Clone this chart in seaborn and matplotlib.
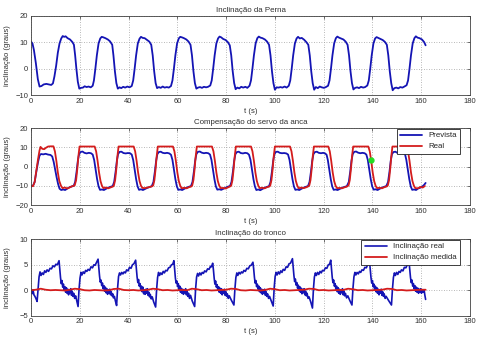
import matplotlib
matplotlib.use("Agg")
import matplotlib.pyplot as plt
import seaborn as sns
import pandas as pd

# ---------------- data ----------------
titles = ["Inclinação da Perna", "Compensação do servo da anca", "Inclinação do tronco"]
xlabel = "t (s)"
ylabel = "inclinação (graus)"
xticks = [0, 20, 40, 60, 80, 100, 120, 140, 160, 180]
yticks_top = [-10, 0, 10, 20]
yticks_mid = [-20, -10, 0, 10, 20]
yticks_bot = [-5, 0, 5, 10]
legend_mid = ["Prevista", "Real"]
legend_bot = ["Inclinação real", "Inclinação medida"]
marker_pt = (139.3, 3.5)

perna = [
    (0, 10.2), (0.6, 9.5), (1.2, 7), (2, 2), (2.8, -4), (3.5, -6.8), (4.3, -6.6), (5.2, -6), (6.3, -5.8),
    (7.4, -6), (8.3, -6.2), (9, -5.6), (9.6, -3), (10.3, 1), (11, 6), (11.7, 9.5), (12.4, 11.4), (13, 12.3),
    (13.6, 12), (14.2, 12.2), (15, 11.5), (16, 11), (17, 10), (17.6, 9), (18.1, 5), (18.6, 0), (19.2, -5), (19.8, -7.6),
    (20.5, -7.3), (21.3, -7.2), (22, -6.7), (22.8, -7), (23.6, -6.8), (24.5, -7.1), (25.3, -6.5), (25.8, -4.5),
    (26.4, 0), (27, 5), (27.7, 9.5), (28.4, 11.4), (29, 12), (29.7, 11.8), (30.5, 11.5), (31.5, 11), (32.4, 10.3),
    (33.3, 9), (33.8, 5), (34.4, -1), (35, -5.5), (35.6, -7.6),
    (36.3, -7.1), (37, -7.4), (37.8, -6.9), (38.6, -7.2), (39.5, -6.8), (40.4, -7.1), (41.3, -6.6), (41.9, -4.5),
    (42.5, 0), (43.1, 5), (43.8, 9.5), (44.5, 11.3), (45.1, 12), (45.8, 11.6), (46.6, 11.5), (47.6, 10.8),
    (48.5, 10.2), (49.3, 9), (49.9, 5), (50.5, -1), (51.1, -5.5), (51.7, -7.4),
    (52.4, -7), (53.2, -7.3), (54, -6.8), (54.8, -7.2), (55.7, -7), (56.5, -7.2), (57.4, -6.6), (58, -4.5),
    (58.6, 0), (59.2, 5), (59.9, 9.5), (60.6, 11.4), (61.2, 12), (61.9, 11.8), (62.7, 11.5), (63.7, 11),
    (64.6, 10.2), (65.4, 9), (66, 5), (66.6, -1), (67.2, -5.5), (67.8, -7.6),
    (68.5, -7.2), (69.3, -7), (70.1, -7.3), (70.9, -6.9), (71.8, -7.1), (72.6, -6.9), (73.5, -6.4), (74.1, -4.5),
    (74.7, 0), (75.3, 5), (76, 9.5), (76.7, 11.4), (77.3, 12.1), (78, 11.8), (78.8, 11.2), (79.8, 10.8),
    (80.7, 10), (81.5, 8.8), (82.1, 5), (82.7, -1), (83.3, -5.5), (83.9, -7.8),
    (84.6, -7.2), (85.4, -7.5), (86.2, -6.9), (87, -7.2), (87.9, -6.9), (88.7, -7.3), (89.6, -6.5), (90.2, -4.5),
    (90.8, 0), (91.4, 5), (92.1, 9.5), (92.8, 11.5), (93.4, 12.1), (94.1, 11.7), (94.9, 11.5), (95.9, 11),
    (96.8, 10.2), (97.6, 9), (98.2, 5), (98.8, -1), (99.4, -5.5), (100, -8),
    (100.7, -7.1), (101.5, -7.2), (102.3, -7), (103.1, -7.2), (104, -6.8), (104.8, -7.2), (105.7, -6.5), (106.3, -4.5),
    (106.9, 0), (107.5, 5), (108.2, 9.5), (108.9, 11.4), (109.5, 12), (110.2, 11.4), (111, 11.6), (112, 10.9),
    (112.9, 10), (113.7, 9), (114.3, 5), (114.9, -1), (115.5, -5.5), (116.1, -8),
    (116.8, -7), (117.6, -7.4), (118.4, -6.8), (119.2, -7.1), (120.1, -7.3), (120.9, -7), (121.8, -6.5), (122.4, -4.5),
    (123, 0), (123.6, 5), (124.3, 9.5), (125, 11.5), (125.6, 12.1), (126.3, 11.7), (127.1, 11.4), (128.1, 11),
    (129, 10.2), (129.8, 9), (130.4, 5), (131, -1), (131.6, -5.5), (132.2, -7.9),
    (132.9, -7.3), (133.7, -7.1), (134.5, -7.4), (135.3, -6.9), (136.2, -7.2), (137, -7), (137.9, -6.4), (138.5, -4.5),
    (139.1, 0), (139.7, 5), (140.4, 9.5), (141.1, 11.4), (141.7, 11.9), (142.4, 11.6), (143.2, 11.3), (144.2, 10.8),
    (145.1, 10.1), (145.9, 9), (146.5, 5), (147.1, -1), (147.7, -5.5), (148.3, -8.2),
    (149, -7.4), (149.8, -7.2), (150.6, -7.5), (151.4, -7), (152.3, -7.2), (153.1, -6.8), (154, -6.3), (154.6, -4.5),
    (155.2, 0), (155.8, 5), (156.5, 9.5), (157.2, 11.5), (157.8, 12.2), (158.5, 11.7), (159.3, 11.5), (160.3, 11),
    (161.2, 10), (161.8, 8.8),
]

prevista = [
    (0, -10.3), (0.8, -10), (1.5, -8), (2.2, -2.5), (2.9, 2.5), (3.5, 5.8), (4.1, 6.6), (5.0, 6.4), (6.0, 6.7),
    (7.0, 6.3), (8.0, 6.1), (8.7, 5.3), (9.3, 2.5), (9.9, -1.5), (10.5, -5.5), (11.1, -9), (11.7, -11.5),
    (12.4, -12.2), (13.2, -11.9), (14.0, -12.2), (14.8, -11.5), (15.6, -10.9), (16.5, -10.4), (17.5, -10),
    (18.1, -8), (18.7, -2.5), (19.2, 3), (19.7, 6.5),
    (20.3, 7.6), (21.1, 7.9), (21.9, 7.2), (22.8, 6.9), (23.7, 7.2), (24.6, 7.0), (25.3, 6.3),
    (25.9, 3.5), (26.5, -1.5), (27.1, -6.5), (27.7, -10.3), (28.3, -12.1), (29.1, -11.9), (29.9, -12.2),
    (30.7, -11.6), (31.6, -11.0), (32.5, -10.6), (33.5, -10.1), (34.1, -8), (34.7, -2.5), (35.2, 3), (35.7, 6.5),
    (36.3, 7.7), (37.1, 7.8), (37.9, 7.1), (38.8, 6.9), (39.7, 7.1), (40.6, 7.0), (41.3, 6.3),
    (41.9, 3.5), (42.5, -1.5), (43.1, -6.5), (43.7, -10.3), (44.3, -12.1), (45.1, -11.8), (45.9, -12.2),
    (46.7, -11.7), (47.6, -11.1), (48.5, -10.7), (49.5, -10.2), (50.2, -8), (50.8, -2.5), (51.3, 3), (51.8, 6.5),
    (52.4, 7.6), (53.2, 7.8), (54.0, 7.2), (54.9, 7.0), (55.8, 7.2), (56.7, 6.9), (57.4, 6.2),
    (58.0, 3.5), (58.6, -1.5), (59.2, -6.5), (59.8, -10.3), (60.4, -12.1), (61.2, -11.9), (62.0, -12.2),
    (62.8, -11.6), (63.7, -11.0), (64.6, -10.6), (65.6, -10.1), (66.2, -8), (66.8, -2.5), (67.3, 3), (67.8, 6.5),
    (68.4, 7.7), (69.2, 7.9), (70.0, 7.3), (70.9, 7.0), (71.8, 7.2), (72.7, 7.0), (73.4, 6.3),
    (74.0, 3.5), (74.6, -1.5), (75.2, -6.5), (75.8, -10.3), (76.4, -12.0), (77.2, -11.8), (78.0, -12.1),
    (78.8, -11.6), (79.7, -11.0), (80.6, -10.5), (81.6, -10.1), (82.2, -8), (82.8, -2.5), (83.3, 3), (83.8, 6.5),
    (84.4, 7.6), (85.2, 7.8), (86.0, 7.1), (86.9, 6.9), (87.8, 7.2), (88.7, 7.0), (89.4, 6.2),
    (90.0, 3.5), (90.6, -1.5), (91.2, -6.5), (91.8, -10.3), (92.4, -12.2), (93.2, -11.9), (94.0, -12.3),
    (94.8, -11.7), (95.7, -11.1), (96.6, -10.6), (97.6, -10.2), (98.2, -8), (98.8, -2.5), (99.3, 3), (99.8, 6.5),
    (100.4, 7.7), (101.2, 7.8), (102.0, 7.2), (102.9, 7.0), (103.8, 7.1), (104.7, 6.9), (105.4, 6.3),
    (106.0, 3.5), (106.6, -1.5), (107.2, -6.5), (107.8, -10.3), (108.4, -12.1), (109.2, -11.9), (110.0, -12.2),
    (110.8, -11.6), (111.7, -11.0), (112.6, -10.6), (113.6, -10.1), (114.2, -8), (114.8, -2.5), (115.3, 3), (115.8, 6.5),
    (116.4, 7.6), (117.2, 7.8), (118.0, 7.2), (118.9, 7.0), (119.8, 7.2), (120.6, 6.9), (121.2, 6.2),
    (121.7, 3.5), (122.3, -1.5), (122.9, -6.5), (123.5, -10.3), (124.1, -12.1), (124.9, -11.9), (125.7, -12.2),
    (126.5, -11.7), (127.4, -11.1), (128.4, -10.6), (129.5, -10.2), (130.3, -8), (130.9, -2.5), (131.4, 3), (131.9, 6.5),
    (132.5, 7.7), (133.3, 7.9), (134.1, 7.3), (135.0, 7.0), (135.9, 7.2), (136.8, 7.0), (137.5, 6.3),
    (138.1, 3.5), (138.7, -1.5), (139.3, -6.5), (139.9, -10.3), (140.5, -12.0), (141.3, -11.8), (142.1, -12.2),
    (142.9, -11.6), (143.8, -11.0), (144.7, -10.6), (145.7, -10.1), (146.4, -8), (147.0, -2.5), (147.5, 3), (148.0, 6.5),
    (148.6, 7.6), (149.4, 7.8), (150.2, 7.2), (151.1, 7.0), (152.0, 7.1), (152.9, 6.9), (153.4, 6.3),
    (153.9, 3.5), (154.5, -1.5), (155.1, -6.5), (155.7, -10.3), (156.3, -12.1), (157.1, -11.9), (157.9, -12.2),
    (158.7, -11.4), (159.6, -11.0), (160.5, -10.3), (161.2, -9.5), (161.8, -8.5),
]

real = [
    (0, -10), (0.8, -10.2), (1.5, -8), (2.2, -2), (2.9, 4), (3.5, 8.5), (3.9, 10.3), (4.6, 9.3), (5.4, 9.1),
    (6.2, 9.9), (7.0, 10.5), (8.0, 10.6), (9.2, 10.6), (9.8, 8), (10.4, 3), (11.0, -3), (11.6, -7.5), (12.3, -10),
    (12.9, -11.2), (13.9, -10.9), (14.9, -11.4), (15.9, -10.8), (16.9, -10.2), (17.9, -9.8), (18.5, -7), (19.0, -1),
    (19.4, 5), (19.9, 10.5),
    (26.1, 10.5), (26.7, 8), (27.3, 3), (27.9, -3), (28.5, -7.5), (29.1, -10), (29.7, -11.2), (30.7, -10.9),
    (31.7, -11.3), (32.7, -10.8), (33.7, -10.3), (34.0, -9.8), (34.5, -7), (35.0, -1), (35.4, 5), (35.9, 10.5),
    (42.1, 10.5), (42.7, 8), (43.3, 3), (43.9, -3), (44.5, -7.5), (45.1, -10), (45.7, -11.1), (46.7, -11.2),
    (47.7, -10.9), (48.7, -10.6), (49.7, -10.2), (50.1, -9.8), (50.6, -7), (51.1, -1), (51.5, 5), (52.0, 10.5),
    (58.2, 10.5), (58.8, 8), (59.4, 3), (60.0, -3), (60.6, -7.5), (61.2, -10), (61.8, -11.3), (62.8, -11),
    (63.8, -11.3), (64.8, -10.7), (65.8, -10.3), (66.1, -9.8), (66.6, -7), (67.1, -1), (67.5, 5), (68.0, 10.5),
    (74.2, 10.5), (74.8, 8), (75.4, 3), (76.0, -3), (76.6, -7.5), (77.2, -10), (77.8, -11.2), (78.8, -11.1),
    (79.8, -11.4), (80.8, -10.8), (81.8, -10.2), (82.1, -9.8), (82.6, -7), (83.1, -1), (83.5, 5), (84.0, 10.5),
    (90.2, 10.5), (90.8, 8), (91.4, 3), (92.0, -3), (92.6, -7.5), (93.2, -10), (93.8, -11.2), (94.8, -11),
    (95.8, -11.3), (96.8, -10.7), (97.8, -10.3), (98.1, -9.8), (98.6, -7), (99.1, -1), (99.5, 5), (100.0, 10.5),
    (106.2, 10.5), (106.8, 8), (107.4, 3), (108.0, -3), (108.6, -7.5), (109.2, -10), (109.8, -11.3), (110.8, -10.9),
    (111.8, -11.2), (112.8, -10.8), (113.8, -10.2), (114.1, -9.8), (114.6, -7), (115.1, -1), (115.5, 5), (116.0, 10.5),
    (121.9, 10.5), (122.5, 8), (123.1, 3), (123.7, -3), (124.3, -7.5), (124.9, -10), (125.5, -11.2), (126.5, -11.1),
    (127.5, -11.3), (128.5, -10.8), (129.5, -10.4), (130.2, -9.8), (130.7, -7), (131.2, -1), (131.6, 5), (132.1, 10.5),
    (138.3, 10.5), (138.9, 8), (139.5, 3), (140.1, -3), (140.7, -7.5), (141.3, -10), (141.9, -11.2), (142.9, -11),
    (143.9, -11.3), (144.9, -10.7), (145.9, -10.3), (146.3, -9.8), (146.8, -7), (147.3, -1), (147.7, 5), (148.2, 10.5),
    (154.0, 10.5), (154.6, 8), (155.2, 3), (155.8, -3), (156.4, -7.5), (157.0, -10), (157.6, -11.2), (158.6, -11.3),
    (159.6, -10.6), (160.6, -10.9), (161.5, -10.1),
]

tronco_real = [
    (0, -0.3), (0.4, -0.7), (0.8, 0.1), (1.2, -0.9), (1.6, -1.2), (2.0, -1.6), (2.5, -2.2),
    (2.9, 0.3), (3.3, 2.6), (3.7, 3.6), (4.1, 2.9), (4.6, 3.4), (5.1, 3.1), (5.6, 3.8), (6.1, 3.5), (6.6, 4.0),
    (7.2, 3.7), (7.8, 4.3), (8.4, 4.2), (9.0, 4.8), (9.6, 4.6), (10.2, 5.1), (10.8, 5.0), (11.5, 5.8),
    (11.8, 4.2), (12.1, 2.5), (12.4, 1.3), (12.7, 1.9), (13.0, 0.6), (13.3, 1.2), (13.6, 0.1), (13.9, 0.7),
    (14.2, -0.4), (14.5, 0.5), (14.8, -0.6), (15.1, 0.2), (15.4, -0.9), (15.7, 0.0), (16.0, -0.5), (16.3, 0.3),
    (16.6, -1.0), (16.9, -0.2), (17.2, -1.2), (17.5, -0.6), (17.9, -1.6), (18.3, -1.1), (18.8, -2.2), (19.3, -3.2),
    (19.7, 0.2), (20.1, 2.4), (20.5, 3.5), (20.9, 3.0), (21.4, 3.6), (21.9, 3.3), (22.4, 3.9), (22.9, 3.7),
    (23.4, 4.1), (24.0, 3.9), (24.6, 4.6), (25.2, 4.4), (25.8, 5.0), (26.3, 4.9), (26.9, 5.5), (27.5, 6.1),
    (27.8, 4.5), (28.1, 2.8), (28.4, 1.6), (28.7, 2.0), (29.0, 0.9), (29.3, 1.4), (29.6, 0.3), (29.9, 0.9),
    (30.2, -0.2), (30.5, 0.6), (30.8, -0.5), (31.1, 0.3), (31.4, -0.8), (31.7, 0.1), (32.0, -0.6), (32.3, 0.2),
    (32.6, -0.9), (32.9, -0.3), (33.2, -1.1), (33.5, -0.7), (33.8, -1.5), (34.2, -1.2), (34.6, -2.1), (35.1, -3.0),
    (35.5, 0.4), (35.9, 2.7), (36.3, 3.4), (36.7, 3.0), (37.2, 3.5), (37.7, 3.2), (38.2, 3.6), (38.7, 3.4),
    (39.2, 4.0), (39.8, 3.8), (40.4, 4.5), (41.0, 4.3), (41.6, 5.0), (42.2, 5.2), (42.9, 5.9),
    (43.2, 4.3), (43.5, 2.6), (43.8, 1.5), (44.1, 2.1), (44.4, 0.8), (44.7, 1.3), (45.0, 0.2), (45.3, 0.8),
    (45.6, -0.3), (45.9, 0.6), (46.2, -0.7), (46.5, 0.1), (46.8, -0.8), (47.1, 0.2), (47.4, -0.6), (47.7, 0.3),
    (48.0, -1.0), (48.3, -0.4), (48.6, -1.3), (48.9, -0.8), (49.3, -1.7), (49.7, -1.3), (50.3, -2.3), (51.1, -3.3),
    (51.5, 0.1), (51.9, 2.5), (52.3, 3.5), (52.7, 2.9), (53.2, 3.4), (53.7, 3.1), (54.2, 3.7), (54.7, 3.4),
    (55.2, 3.9), (55.8, 3.8), (56.4, 4.4), (57.0, 4.5), (57.6, 5.0), (58.1, 5.1), (58.6, 5.8),
    (58.9, 4.1), (59.2, 2.4), (59.5, 1.4), (59.8, 1.8), (60.1, 0.7), (60.4, 1.3), (60.7, 0.1), (61.0, 0.8),
    (61.3, -0.4), (61.6, 0.4), (61.9, -0.6), (62.2, 0.2), (62.5, -0.8), (62.8, 0.0), (63.1, -0.5), (63.4, 0.3),
    (63.7, -0.9), (64.0, -0.2), (64.3, -1.2), (64.6, -0.6), (65.0, -1.6), (65.4, -1.0), (66.1, -2.1), (67.1, -3.2),
    (67.5, 0.3), (67.9, 2.6), (68.3, 3.3), (68.7, 2.8), (69.2, 3.4), (69.7, 3.0), (70.2, 3.5), (70.7, 3.3),
    (71.2, 3.8), (71.8, 3.6), (72.4, 4.2), (73.0, 4.1), (73.6, 4.7), (74.0, 4.6), (74.5, 5.3),
    (74.8, 4.0), (75.1, 2.4), (75.4, 1.2), (75.7, 1.8), (76.0, 0.6), (76.3, 1.1), (76.6, 0.0), (76.9, 0.7),
    (77.2, -0.4), (77.5, 0.4), (77.8, -0.6), (78.1, 0.3), (78.4, -0.9), (78.7, -0.1), (79.0, -0.6), (79.3, 0.2),
    (79.6, -1.0), (79.9, -0.3), (80.2, -1.2), (80.5, -0.7), (80.9, -1.6), (81.3, -1.1), (82.2, -2.0), (83.2, -2.9),
    (83.6, 0.2), (84.0, 2.5), (84.4, 3.4), (84.8, 2.9), (85.3, 3.5), (85.8, 3.2), (86.3, 3.6), (86.8, 3.4),
    (87.3, 3.9), (87.9, 3.7), (88.5, 4.3), (89.1, 4.2), (89.7, 4.8), (90.3, 4.9), (91.0, 5.5),
    (91.3, 4.2), (91.6, 2.6), (91.9, 1.4), (92.2, 1.9), (92.5, 0.7), (92.8, 1.2), (93.1, 0.2), (93.4, 0.8),
    (93.7, -0.3), (94.0, 0.5), (94.3, -0.5), (94.6, 0.2), (94.9, -0.8), (95.2, 0.1), (95.5, -0.6), (95.8, 0.2),
    (96.1, -1.0), (96.4, -0.3), (96.7, -1.2), (97.0, -0.7), (97.4, -1.6), (97.8, -1.2), (98.5, -2.1), (99.3, -3.1),
    (99.7, 0.4), (100.1, 2.7), (100.5, 3.5), (100.9, 3.0), (101.4, 3.6), (101.9, 3.2), (102.4, 3.8), (102.9, 3.5),
    (103.4, 4.1), (104.0, 3.9), (104.6, 4.6), (105.2, 4.5), (105.8, 5.2), (106.4, 5.3), (107.2, 6.2),
    (107.5, 4.6), (107.8, 2.9), (108.1, 1.7), (108.4, 2.2), (108.7, 1.0), (109.0, 1.5), (109.3, 0.4), (109.6, 1.0),
    (109.9, -0.1), (110.2, 0.7), (110.5, -0.4), (110.8, 0.4), (111.1, -0.7), (111.4, 0.2), (111.7, -0.5), (112.0, 0.3),
    (112.3, -0.9), (112.6, -0.2), (112.9, -1.1), (113.2, -0.6), (113.6, -1.6), (114.0, -1.3), (114.7, -2.3), (115.4, -3.5),
    (115.8, 0.2), (116.2, 2.6), (116.6, 3.4), (117.0, 2.9), (117.5, 3.5), (118.0, 3.1), (118.5, 3.7), (119.0, 3.4),
    (119.5, 3.9), (120.1, 3.8), (120.7, 4.4), (121.3, 4.3), (121.9, 5.0), (122.4, 5.1), (122.9, 5.9),
    (123.2, 4.3), (123.5, 2.6), (123.8, 1.5), (124.1, 2.0), (124.4, 0.8), (124.7, 1.3), (125.0, 0.2), (125.3, 0.8),
    (125.6, -0.3), (125.9, 0.5), (126.2, -0.6), (126.5, 0.2), (126.8, -0.8), (127.1, 0.1), (127.4, -0.5), (127.7, 0.3),
    (128.0, -0.9), (128.3, -0.2), (128.6, -1.1), (128.9, -0.6), (129.4, -1.5), (129.9, -1.1), (130.7, -2.0), (131.6, -2.9),
    (132.0, 0.3), (132.4, 2.6), (132.8, 3.5), (133.2, 3.0), (133.7, 3.5), (134.2, 3.2), (134.7, 3.7), (135.2, 3.5),
    (135.7, 4.0), (136.3, 3.9), (136.9, 4.5), (137.5, 4.4), (138.1, 5.1), (138.8, 5.7),
    (139.1, 4.1), (139.4, 2.5), (139.7, 1.4), (140.0, 1.9), (140.3, 0.7), (140.6, 1.2), (140.9, 0.1), (141.2, 0.8),
    (141.5, -0.3), (141.8, 0.5), (142.1, -0.6), (142.4, 0.2), (142.7, -0.9), (143.0, 0.0), (143.3, -0.6), (143.6, 0.2),
    (143.9, -1.0), (144.2, -0.3), (144.5, -1.2), (144.8, -0.7), (145.2, -1.6), (145.6, -1.2), (146.6, -2.0), (147.8, -2.9),
    (148.2, 0.2), (148.6, 2.5), (149.0, 3.4), (149.4, 2.9), (149.9, 3.5), (150.4, 3.1), (150.9, 3.7), (151.4, 3.5),
    (151.9, 4.0), (152.5, 3.8), (153.1, 4.5), (153.7, 4.4), (154.3, 5.0), (155.0, 5.6),
    (155.3, 4.0), (155.6, 2.5), (155.9, 1.5), (156.2, 2.0), (156.5, 0.8), (156.8, 1.3), (157.1, 0.3), (157.4, 0.9),
    (157.7, -0.2), (158.0, 0.6), (158.3, -0.4), (158.6, 0.4), (158.9, -0.6), (159.2, 0.2), (159.5, -0.4), (159.8, 0.3),
    (160.1, -0.6), (160.4, 0.1), (160.8, -0.4), (161.2, 0.0), (161.5, -1.0), (161.8, -1.8),
]

tronco_medida = [
    (0, 0.0), (2, 0.1), (4, 0.3), (6, 0.1), (8, 0.0), (10, 0.05), (12, 0.0), (14, -0.05), (16, 0.1), (18, 0.3),
    (20, 0.2), (22, 0.0), (24, -0.05), (26, 0.05), (28, 0.0), (30, -0.05), (32, 0.0), (34, 0.25), (36, 0.3),
    (38, 0.05), (40, 0.0), (42, 0.05), (44, -0.05), (46, 0.0), (48, 0.1), (50, 0.3), (52, 0.2), (54, 0.0),
    (56, 0.05), (58, -0.05), (60, 0.0), (62, 0.05), (64, 0.0), (66, 0.3), (68, 0.2), (70, 0.0), (72, 0.05),
    (74, -0.05), (76, 0.0), (78, 0.05), (80, 0.1), (82, 0.3), (84, 0.25), (86, 0.0), (88, -0.05), (90, 0.05),
    (92, 0.0), (94, -0.05), (96, 0.05), (98, 0.3), (100, 0.2), (102, 0.0), (104, 0.05), (106, -0.05), (108, 0.0),
    (110, 0.05), (112, 0.1), (114, 0.3), (116, 0.25), (118, 0.0), (120, 0.05), (122, -0.05), (124, 0.0),
    (126, 0.05), (128, 0.05), (130, 0.3), (132, 0.2), (134, 0.0), (136, 0.05), (138, -0.05), (140, 0.0),
    (142, 0.05), (144, 0.1), (146, 0.3), (148, 0.25), (150, 0.0), (152, 0.05), (154, -0.05), (156, 0.0),
    (158, 0.05), (160, 0.1), (161.8, 0.1),
]

# ---------------- styling ----------------
sns.set_style("white")
plt.rcParams["font.family"] = ["Liberation Sans", "DejaVu Sans"]
BLUE = "#1414b4"
RED = "#d41c1c"
GREEN = "#22dd22"
FS = 5.5


def frame(df_list):
    return pd.DataFrame(df_list, columns=["t", "v"])


W, H = 488, 349
fig = plt.figure(figsize=(W / 100, H / 100), dpi=100)
fig.patch.set_facecolor("white")

boxes = [(31, 15.7, 470, 95.0), (31, 128.3, 470, 205.0), (31, 239.3, 470, 315.7)]
axes = []
for (l, t, r, b) in boxes:
    ax = fig.add_axes([l / W, 1 - b / H, (r - l) / W, (b - t) / H])
    axes.append(ax)

ylims = [(-10, 20), (-20, 20), (-5, 10)]
yticks = [yticks_top, yticks_mid, yticks_bot]

ax0, ax1, ax2 = axes
sns.lineplot(data=frame(perna), x="t", y="v", ax=ax0, sort=False, estimator=None,
             color=BLUE, lw=1.3)
sns.lineplot(data=frame(prevista), x="t", y="v", ax=ax1, sort=False, estimator=None,
             color=BLUE, lw=1.3, label=legend_mid[0])
sns.lineplot(data=frame(real), x="t", y="v", ax=ax1, sort=False, estimator=None,
             color=RED, lw=1.3, label=legend_mid[1])
ax1.plot([marker_pt[0]], [marker_pt[1]], "o", color=GREEN, ms=3.5, mec=GREEN, zorder=5)
sns.lineplot(data=frame(tronco_real), x="t", y="v", ax=ax2, sort=False, estimator=None,
             color=BLUE, lw=1.2, label=legend_bot[0])
sns.lineplot(data=frame(tronco_medida), x="t", y="v", ax=ax2, sort=False, estimator=None,
             color=RED, lw=1.3, label=legend_bot[1])

for i, ax in enumerate(axes):
    ax.set_xlim(0, 180)
    ax.set_ylim(*ylims[i])
    ax.set_xticks(xticks)
    ax.set_yticks(yticks[i])
    ax.grid(True, linestyle=(0, (1, 2)), color="#a0a0a0", lw=0.6)
    ax.set_axisbelow(True)
    for s in ax.spines.values():
        s.set_visible(True)
        s.set_color("#404040")
        s.set_linewidth(0.6)
    ax.tick_params(direction="in", top=True, right=True, length=2.5, width=0.5,
                   labelsize=FS, colors="#404040", labelcolor="#303030", pad=2)
    ax.set_title(titles[i], fontsize=FS + 0.2, color="#303030", pad=3)
    ax.set_xlabel(xlabel, fontsize=FS, color="#303030", labelpad=2)
    ax.set_ylabel(ylabel, fontsize=FS, color="#303030")
    ax.yaxis.set_label_coords(-0.045, 0.5)

leg_kw = dict(loc="upper right", fontsize=FS + 0.2, frameon=True, fancybox=False,
              framealpha=1, edgecolor="#202020", borderaxespad=0, handlelength=2.8,
              handletextpad=0.8, labelspacing=0.45, borderpad=0.4)
l1 = ax1.legend(bbox_to_anchor=(0.977, 0.995), **leg_kw)
l2 = ax2.legend(bbox_to_anchor=(0.977, 0.995), **leg_kw)
for lg in (l1, l2):
    lg.get_frame().set_linewidth(0.6)
    lg.set_zorder(10)

fig.savefig("out.png", dpi=100, facecolor="white")
